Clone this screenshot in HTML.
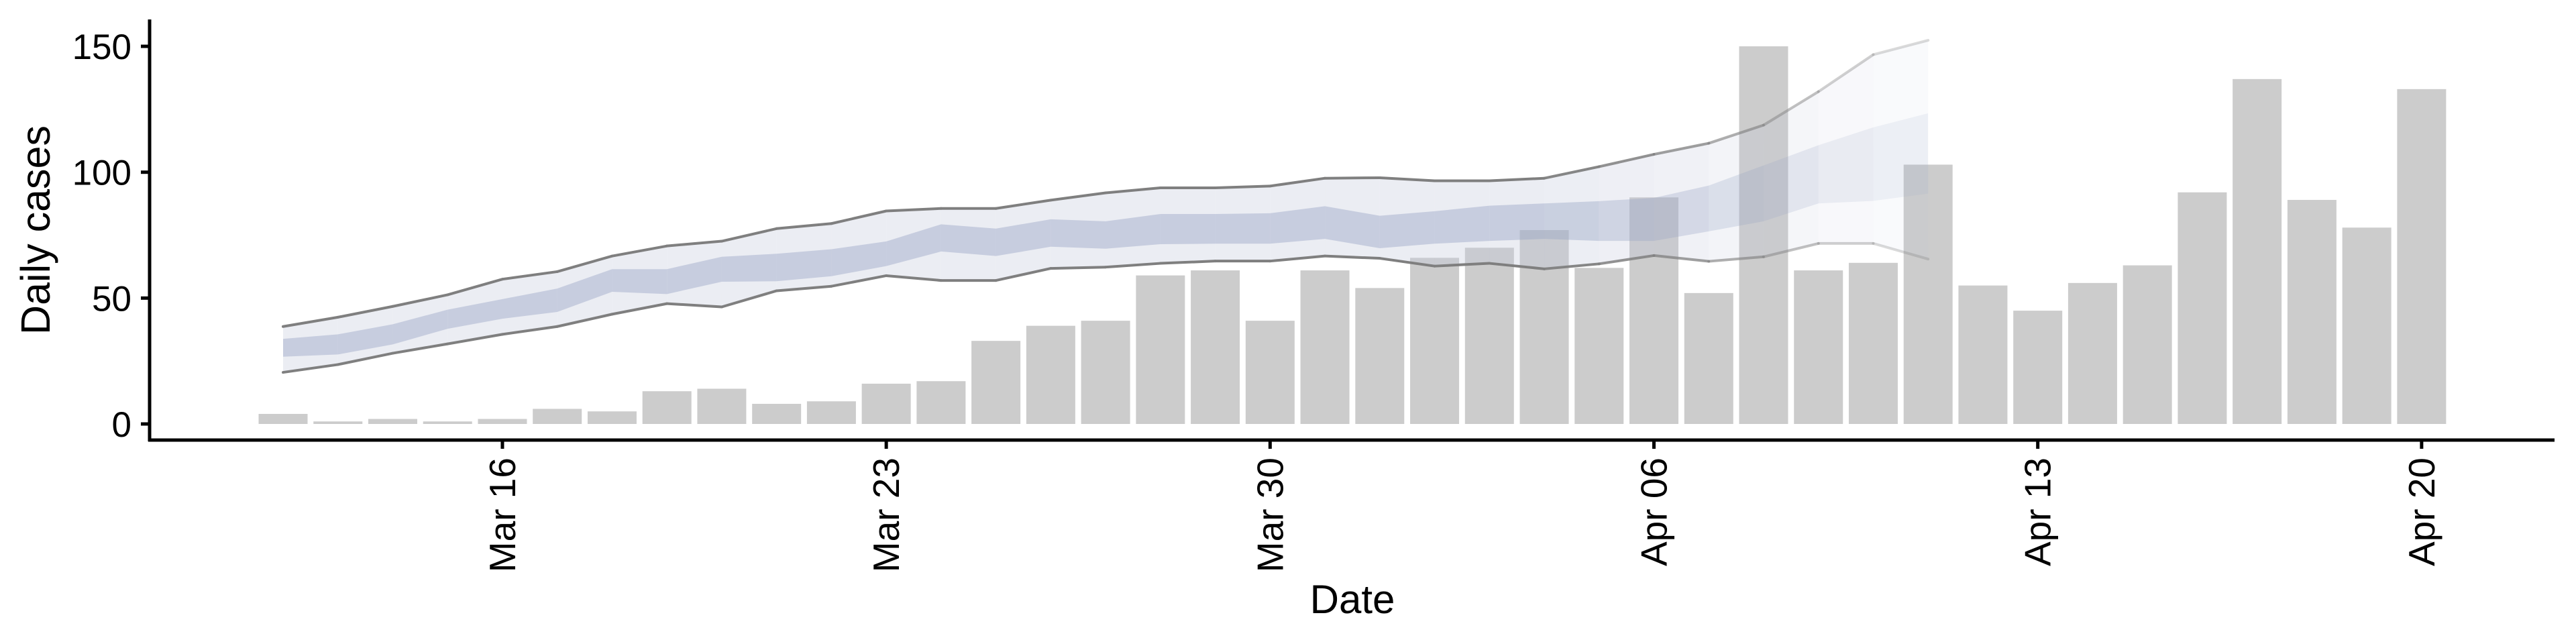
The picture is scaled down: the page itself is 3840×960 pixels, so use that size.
<!DOCTYPE html>
<html><head><meta charset="utf-8"><style>
html,body{margin:0;padding:0;background:#fff;}
svg{display:block;font-family:"Liberation Sans",sans-serif;}
</style></head><body>
<svg id="chart" width="3840" height="960" viewBox="0 0 3840 960" xmlns="http://www.w3.org/2000/svg">
<g id="bars"></g>
<g id="ribbon"></g>
<g id="axes"></g>
</svg>
<script>
const barDays = [0,1,2,3,4,5,6,7,8,9,10,11,12,13,14,15,16,17,18,19,20,21,22,23,24,25,26,27,28,29,30,31,32,33,34,35,36,37,38,39];
const barValues = [4,1,2,1,2,6,5,13,14,8,9,16,17,33,39,41,59,61,41,61,54,66,70,77,62,90,52,150,61,64,103,55,45,56,63,92,137,89,78,133];
const ribbonDays = [0,1,2,3,4,5,6,7,8,9,10,11,12,13,14,15,16,17,18,19,20,21,22,23,24,25,26,27,28,29,30];
const upper95 = [38.7,42.4,46.7,51.3,57.5,60.5,66.7,70.7,72.6,77.6,79.6,84.6,85.6,85.6,88.9,91.8,93.8,93.8,94.5,97.6,97.8,96.6,96.6,97.6,102.2,107.1,111.5,118.7,132,146.7,152.4];
const lower95 = [20.5,23.6,28.1,31.8,35.6,38.7,43.6,47.8,46.5,52.9,54.7,58.9,57,57,61.8,62.3,63.8,64.7,64.7,66.7,65.8,62.7,63.8,61.6,63.6,66.9,64.6,66.4,71.7,71.7,65.5];
const upper50 = [33.8,35.6,39.6,45.4,49.6,53.8,61.5,61.5,66.4,67.6,69.4,72.5,79.3,77.6,81.3,80.5,83.4,83.4,83.7,86.5,82.7,84.5,86.7,87.6,88.5,89.8,94.7,102.7,110.7,117.8,123.4];
const lower50 = [26.7,27.6,31.6,37.8,41.8,44.5,52.5,51.6,56.5,56.7,58.7,62.7,68.5,66.7,70.4,69.6,71.4,71.6,71.6,73.5,69.8,71.6,72.7,73.5,72.7,72.7,76.5,80.5,87.6,88.6,91.5];
const ribbonAlpha = [1,1,1,1,1,1,1,1,1,1,1,1,1,1,1,1,1,1,1,1,1,1,1,1,0.9,0.8,0.7,0.55,0.42,0.32,0.25];
const yTicks = [0,50,100,150];
const xTickDays = [4,11,18,25,32,39];
const xTickLabels = ["Mar 16","Mar 23","Mar 30","Apr 06","Apr 13","Apr 20"];

const NS = "http://www.w3.org/2000/svg";
const x = d => 422 + 81.74 * d;
const y = v => 632 - 3.753 * v;
function mk(tag, attrs, parent){const e=document.createElementNS(NS,tag);for(const k in attrs)e.setAttribute(k,attrs[k]);parent.appendChild(e);return e;}

const gb = document.getElementById('bars');
barDays.forEach((d,i)=>{
  const r = mk('rect',{x:x(d)-36.5,y:y(barValues[i]),width:73,height:Math.max(0,y(0)-y(barValues[i])),fill:'#cccccc'},gb);
  
  
});

const gr = document.getElementById('ribbon');
for(let i=0;i<ribbonDays.length-1;i++){
  const a = (ribbonAlpha[i]+ribbonAlpha[i+1])/2;
  const d0=ribbonDays[i], d1=ribbonDays[i+1];
  const outer = mk('polygon',{points:`${x(d0)},${y(upper95[i])} ${x(d1)},${y(upper95[i+1])} ${x(d1)},${y(lower95[i+1])} ${x(d0)},${y(lower95[i])}`,fill:'rgb(195,200,220)','fill-opacity':0.33*a},gr);
  
  
  const inner = mk('polygon',{points:`${x(d0)},${y(upper50[i])} ${x(d1)},${y(upper50[i+1])} ${x(d1)},${y(lower50[i+1])} ${x(d0)},${y(lower50[i])}`,fill:'rgb(150,163,195)','fill-opacity':0.42*a},gr);
  
  
  const lu = mk('line',{x1:x(d0),y1:y(upper95[i]),x2:x(d1),y2:y(upper95[i+1]),stroke:'#7f7f7f','stroke-width':4,'stroke-opacity':a,'stroke-linecap':'round'},gr);
  
  
  const ll = mk('line',{x1:x(d0),y1:y(lower95[i]),x2:x(d1),y2:y(lower95[i+1]),stroke:'#7f7f7f','stroke-width':4,'stroke-opacity':a,'stroke-linecap':'round'},gr);
  
  
}

const ga = document.getElementById('axes');
const yl = mk('line',{x1:223,y1:29,x2:223,y2:658,stroke:'#000','stroke-width':5},ga);


const xl = mk('line',{x1:221,y1:656,x2:3808,y2:656,stroke:'#000','stroke-width':5},ga);


yTicks.forEach(v=>{
  const t = mk('line',{x1:210,y1:y(v),x2:223,y2:y(v),stroke:'#000','stroke-width':5},ga);
  
  
  const tx = mk('text',{x:196,y:y(v)+19,'text-anchor':'end','font-size':53,fill:'#000'},ga);
  tx.textContent = v;
  
  
});
xTickDays.forEach((d,i)=>{
  const t = mk('line',{x1:x(d),y1:656,x2:x(d),y2:669,stroke:'#000','stroke-width':5},ga);
  
  
  const tx = mk('text',{x:0,y:0,'text-anchor':'end','font-size':55,fill:'#000',transform:`translate(${x(d)+19},${682}) rotate(-90)`},ga);
  tx.textContent = xTickLabels[i];
  
  
});
const xt = mk('text',{x:2016,y:914,'text-anchor':'middle','font-size':60,fill:'#000'},ga);
xt.textContent='Date';


const yt = mk('text',{x:0,y:0,'text-anchor':'middle','font-size':61,fill:'#000',transform:'translate(74,343) rotate(-90)'},ga);
yt.textContent='Daily cases';


</script>
</body></html>
